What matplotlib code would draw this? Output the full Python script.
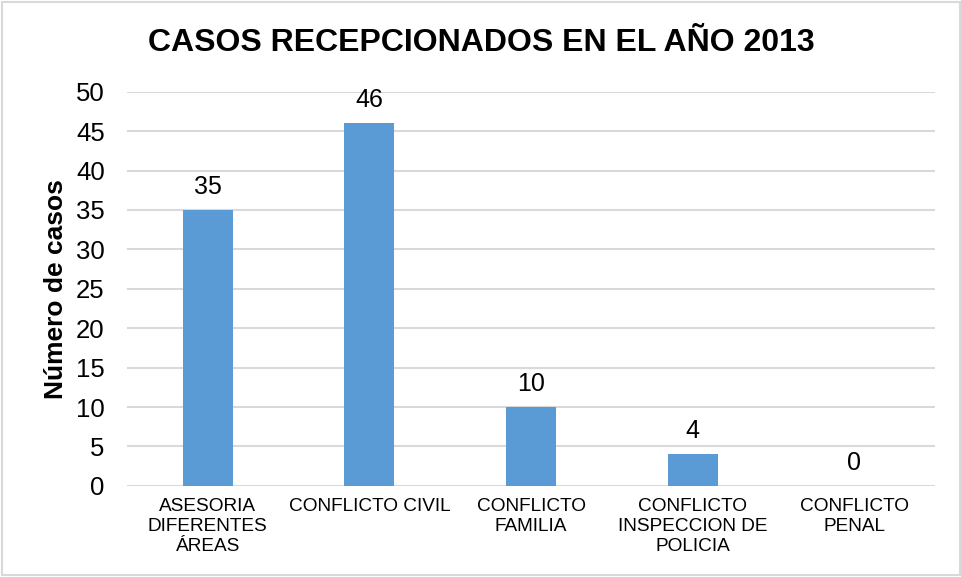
import numpy as np
import matplotlib.pyplot as plt
from matplotlib.patches import Rectangle

categorias = ['ASESORIA\nDIFERENTES\nÁREAS', 'CONFLICTO CIVIL', 'CONFLICTO\nFAMILIA',
              'CONFLICTO\nINSPECCION DE\nPOLICIA', 'CONFLICTO\nPENAL']
casos = [35, 46, 10, 4, 0]
y_ticks = [0, 5, 10, 15, 20, 25, 30, 35, 40, 45, 50]

plt.rcParams['font.family'] = ['Liberation Sans', 'DejaVu Sans']

fig = plt.figure(figsize=(9.62, 5.77), dpi=100)
ax = fig.add_axes([0.132, 0.158, 0.840, 0.683])

x = np.arange(len(categorias))
bars = ax.bar(x, casos, width=0.31, color='#5B9BD5', zorder=3)

for b, v in zip(bars, casos):
    ax.annotate(str(v), (b.get_x() + b.get_width() / 2, v), xytext=(0, 8),
                textcoords='offset points', ha='center', va='bottom', fontsize=18)

ax.set_xlim(-0.5, len(categorias) - 0.5)
ax.set_ylim(0, 50)
ax.set_yticks(y_ticks)
ax.tick_params(axis='y', labelsize=18.5, length=0, pad=16)
ax.set_xticks(x)
ax.set_xticklabels(categorias, fontsize=13.7, linespacing=1.2)
ax.tick_params(axis='x', length=0, pad=9)
ax.grid(axis='y', color='#D9D9D9', linewidth=1.5, zorder=0)
for s in ax.spines.values():
    s.set_visible(False)

ax.set_ylabel('Número de casos', fontsize=19, fontweight='bold', labelpad=6)
fig.text(0.5, 0.925, 'CASOS RECEPCIONADOS EN EL AÑO 2013', ha='center', va='center',
         fontsize=23, fontweight='bold')

fig.patches.append(Rectangle((0.002, 0.003), 0.996, 0.994, transform=fig.transFigure,
                             fill=False, edgecolor='#D9D9D9', linewidth=1.5))

fig.savefig('out.png', dpi=100)
